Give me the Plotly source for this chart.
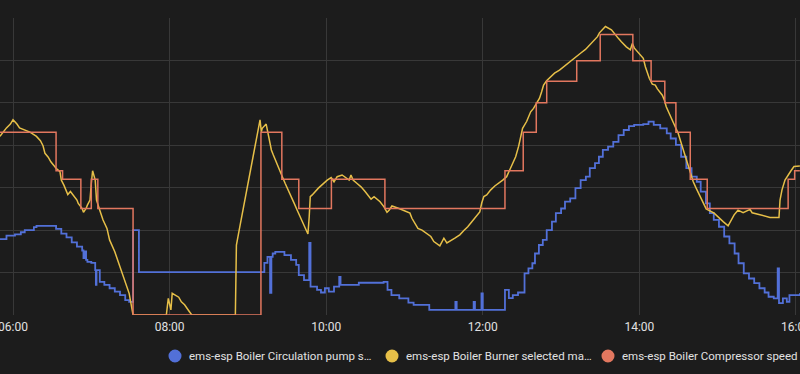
import pandas as pd
import plotly.graph_objects as go

DAY = "2024-01-15 "

series_names = [
    "ems-esp Boiler Circulation pump s…",
    "ems-esp Boiler Burner selected ma…",
    "ems-esp Boiler Compressor speed",
]
series_colors = ["#5270d8", "#e6bf48", "#e2775f"]

# Circulation pump speed (blue)
pump_t = ["05:50", "05:55", "06:01:30", "06:06", "06:09", "06:16", "06:18", "06:33", "06:37", "06:41",
          "06:45", "06:49", "06:53", "06:54", "06:55", "06:56", "06:57", "07:00", "07:03", "07:03:30",
          "07:04", "07:06:30", "07:10", "07:14", "07:18", "07:22", "07:26", "07:29", "07:32", "07:36:30",
          "09:12:36", "09:15", "09:17", "09:18", "09:19", "09:21", "09:28", "09:33", "09:37", "09:39",
          "09:43", "09:47", "09:48", "09:53", "09:56", "09:59", "10:02", "10:06", "10:10", "10:11",
          "10:25", "10:44", "10:47", "10:50", "10:56", "11:03", "11:07", "11:19", "11:39", "11:40",
          "11:53", "11:54", "11:59", "12:00", "12:17", "12:20", "12:23", "12:27", "12:32", "12:35",
          "12:38", "12:40", "12:43", "12:46", "12:49", "12:53", "12:56", "13:00", "13:03", "13:07",
          "13:11", "13:15", "13:19", "13:22", "13:26", "13:29", "13:32", "13:36", "13:40", "13:44",
          "13:48", "13:52", "13:56", "14:03", "14:07", "14:11", "14:16", "14:21", "14:24", "14:28",
          "14:32", "14:36", "14:40", "14:44", "14:47", "14:51", "14:54", "14:57", "15:01", "15:05",
          "15:09", "15:13", "15:16", "15:20", "15:24", "15:28", "15:32", "15:36", "15:39", "15:43",
          "15:46", "15:47", "15:50", "15:53", "15:55", "16:03"]
pump_v = [17.9, 18.7, 19.0, 19.5, 20.0, 20.7, 21.0, 20.3, 19.2, 18.3,
          17.1, 16.1, 15.2, 13.4, 15.0, 13.0, 12.5, 12.3, 10.6, 7.1,
          10.6, 7.8, 7.1, 6.3, 5.5, 4.7, 3.5, 3.1, 20.0, 10.1,
          12.3, 13.7, 5.2, 13.7, 14.5, 14.9, 14.1, 13.0, 11.8, 9.4,
          8.2, 17.0, 6.7, 5.9, 5.3, 6.3, 5.5, 6.7, 9.0, 7.1,
          7.6, 7.8, 5.9, 4.7, 3.9, 2.9, 2.4, 1.2, 3.1, 1.2,
          3.1, 1.2, 5.1, 1.2, 5.9, 4.0, 4.7, 5.3, 9.8, 11.0,
          12.2, 14.5, 16.5, 17.7, 20.0, 22.0, 24.0, 25.1, 26.7, 27.5,
          29.9, 31.8, 32.6, 34.6, 35.8, 37.3, 38.9, 39.7, 40.8, 42.4,
          43.6, 44.5, 44.8, 45.0, 45.6, 44.8, 44.0, 42.8, 41.6, 40.1,
          37.3, 34.6, 32.6, 31.4, 29.1, 26.3, 24.0, 22.4, 20.8, 18.5,
          16.9, 14.5, 12.2, 9.8, 8.6, 7.5, 6.3, 5.3, 4.3, 3.9,
          11.0, 2.8, 3.9, 3.1, 4.7, 5.1]

# Burner selected max power (yellow)
burner_t = ["05:50", "05:55", "05:58", "06:00", "06:03", "06:05", "06:13", "06:18", "06:21", "06:23",
            "06:24:30", "06:27", "06:29", "06:31", "06:33", "06:36", "06:37", "06:39", "06:40:30", "06:42",
            "06:44", "06:45", "06:47", "06:49", "06:50", "06:53", "06:54", "06:56", "06:57", "06:59",
            "07:00", "07:01", "07:03", "07:04", "07:06:30", "07:09", "07:12", "07:14", "07:18", "07:22",
            "07:26", "07:29", "07:32", "07:57:30", "07:59", "08:01", "08:02", "08:07", "08:09", "08:11:30",
            "08:14", "08:17", "08:50:24", "08:51:12", "08:53:30", "08:55:48", "08:58:06", "09:00:24", "09:02:42", "09:04:54",
            "09:07:12", "09:09:18", "09:10:18", "09:11", "09:14", "09:18", "09:19:30", "09:21", "09:22:30", "09:24",
            "09:26:24", "09:28:36", "09:31", "09:33:12", "09:35:30", "09:37:48", "09:40:06", "09:42:24", "09:44:18", "09:46",
            "09:47", "09:47:48", "09:49:18", "09:51:36", "09:54", "10:00:48", "10:03:48", "10:06", "10:08:24", "10:12:12",
            "10:17:36", "10:19", "10:20:36", "10:23:42", "10:26:42", "10:29:48", "10:32", "10:34:24", "10:36:42", "10:41:18",
            "10:44:18", "10:46:36", "10:48:12", "10:50:24", "10:55:48", "11:04:12", "11:05:42", "11:08", "11:10:18", "11:13:24",
            "11:16:24", "11:20:12", "11:22:30", "11:27:06", "11:30:12", "11:32:30", "11:38:36", "11:42:24", "11:45:30", "11:48:30",
            "11:51:36", "11:54:36", "11:57:42", "11:59:12", "12:00:48", "12:03", "12:06:06", "12:09:12", "12:12:12", "12:15:18",
            "12:18:18", "12:20:36", "12:22:54", "12:25:12", "12:27:30", "12:30:30", "12:33:36", "12:36:42", "12:38:54", "12:41:12",
            "12:43:30", "12:45:06", "12:46:36", "12:48:54", "12:51:54", "12:55", "12:58:48", "13:01:54", "13:04:54", "13:08:48",
            "13:11:48", "13:14:54", "13:18:42", "13:21:48", "13:24:48", "13:27:54", "13:29:24", "13:31:42", "13:34", "13:38:36",
            "13:41:36", "13:43:54", "13:46:12", "13:50", "13:53:06", "13:54:36", "13:56:12", "14:00", "14:03", "14:04:36",
            "14:06:06", "14:07:36", "14:09:54", "14:12:12", "14:13:48", "14:15:18", "14:17:36", "14:19:06", "14:20:36", "14:22:54",
            "14:25:12", "14:27:30", "14:29:48", "14:32:06", "14:34:24", "14:36:42", "14:39", "14:41:18", "14:43:30", "14:46:36",
            "14:49:42", "14:51:12", "14:57:18", "15:00:24", "15:04:12", "15:08", "15:10:18", "15:12:36", "15:15:36", "15:19:30",
            "15:24:48", "15:26:24", "15:40:06", "15:47", "15:47:48", "15:49:18", "15:51:36", "15:53:54", "15:56:12", "15:58:30",
            "16:03"]
burner_v = [42.1, 44.1, 45.0, 46.0, 45.0, 44.1, 43.1, 42.1, 41.1, 39.9,
            38.1, 37.2, 36.1, 35.2, 34.6, 33.8, 31.8, 30.6, 29.5, 28.4,
            29.1, 28.7, 27.9, 27.1, 26.3, 25.1, 24.2, 25.1, 25.9, 27.1,
            31.0, 34.0, 31.8, 27.1, 24.7, 22.4, 20.4, 17.7, 14.9, 11.4,
            8.2, 5.1, 0.0, 0.0, 3.9, 1.2, 5.1, 4.2, 3.1, 2.4,
            1.3, 0.0, 0.0, 16.5, 20.3, 24.0, 27.8, 31.6, 35.4, 38.9,
            42.7, 46.0, 43.2, 44.0, 45.0, 38.9, 37.7, 36.5, 35.4, 34.2,
            32.6, 31.0, 29.5, 27.9, 26.3, 24.7, 23.2, 21.6, 20.3, 19.1,
            23.2, 27.9, 28.3, 29.1, 29.9, 31.8, 32.4, 31.4, 32.6, 33.0,
            31.8, 33.0, 31.8, 31.0, 30.2, 29.1, 28.3, 27.3, 27.9, 26.7,
            25.5, 24.2, 24.7, 25.7, 25.1, 24.0, 22.8, 21.6, 20.4, 20.0,
            19.3, 18.5, 17.3, 16.3, 18.1, 17.0, 18.1, 18.9, 19.9, 20.8,
            22.0, 23.2, 24.3, 26.4, 27.9, 28.3, 29.5, 30.4, 31.0, 31.8,
            32.6, 34.2, 36.1, 37.3, 39.8, 44.0, 45.6, 47.9, 48.7, 49.9,
            51.1, 52.6, 54.2, 55.2, 56.2, 57.0, 57.7, 58.5, 59.3, 60.1,
            60.9, 61.7, 62.6, 63.6, 64.4, 65.6, 66.5, 67.2, 68.0, 67.2,
            66.2, 65.2, 64.4, 63.2, 62.5, 64.0, 62.9, 61.7, 60.5, 58.5,
            57.0, 55.8, 54.4, 54.2, 53.3, 52.6, 51.8, 50.7, 49.1, 47.5,
            46.0, 44.4, 42.8, 40.5, 38.1, 35.8, 33.4, 31.4, 29.9, 27.9,
            25.9, 25.0, 24.0, 23.2, 22.0, 21.0, 22.4, 23.6, 24.7, 24.1,
            24.9, 24.1, 23.0, 23.0, 27.1, 29.5, 31.8, 33.0, 34.0, 35.0,
            35.1]

# Compressor speed (orange)
comp_t = ["05:50", "06:33", "06:38", "06:52", "07:00", "07:05", "07:32", "09:10", "09:26", "09:39",
          "10:04", "10:45", "12:17", "12:31", "12:41", "12:49", "13:12", "13:30", "13:55", "14:09",
          "14:19:30", "14:28", "14:39", "14:52", "15:54", "15:59", "16:03"]
comp_v = [43.1, 34.0, 32.0, 25.1, 32.0, 25.1, 0.0, 43.1, 32.0, 25.1,
          32.0, 25.1, 34.0, 43.1, 50.0, 55.1, 59.9, 66.1, 59.9, 55.1,
          50.0, 43.1, 32.0, 25.1, 32.0, 34.0, 34.0]

line_shapes = ["hv", "linear", "hv"]
line_widths = [1.8, 1.5, 1.5]

x_range = ["05:50:02", "16:03:06"]
y_range = [0, 70]
y_step = 10

W, H = 800, 374
M_T, M_B = 18, 59
# legend row: circle centre x (px) for each entry, text starts 12 px right of it
legend_x = [175, 392, 608]
legend_y = 356


def to_dt(ts):
    full = [t if t.count(":") == 2 else t + ":00" for t in ts]
    return pd.to_datetime([DAY + t for t in full], format="%Y-%m-%d %H:%M:%S")


fig = go.Figure()
data = [(pump_t, pump_v), (burner_t, burner_v), (comp_t, comp_v)]
for (t, v), name, col, shp, w in zip(data, series_names, series_colors, line_shapes, line_widths):
    fig.add_trace(go.Scatter(
        x=to_dt(t), y=v, mode="lines", line=dict(color=col, width=w, shape=shp),
        name=name, showlegend=False, hoverinfo="skip"))

# legend row built from circles + text
plot_h = H - M_T - M_B
ly = (H - M_B - legend_y) / plot_h
for name, col, lx in zip(series_names, series_colors, legend_x):
    r = 6.5
    fig.add_shape(type="circle", xref="paper", yref="paper",
                  x0=(lx - r) / W, x1=(lx + r) / W,
                  y0=ly - r / plot_h, y1=ly + r / plot_h,
                  fillcolor=col, line=dict(width=0))
    fig.add_annotation(x=(lx + 12) / W, y=ly, xref="paper", yref="paper",
                       text=name, showarrow=False, xanchor="left", yanchor="middle",
                       font=dict(size=11.5, color="#e1e1e1"))

fig.update_layout(
    width=W, height=H,
    margin=dict(l=0, r=0, t=M_T, b=M_B, autoexpand=False),
    paper_bgcolor="#1c1c1c", plot_bgcolor="#1c1c1c",
    font=dict(family="Roboto", size=12, color="#e1e1e1"),
    showlegend=False,
)
fig.update_xaxes(
    type="date", range=[DAY + x_range[0], DAY + x_range[1]],
    dtick=2 * 3600 * 1000, tick0=DAY + "06:00", tickformat="%H:%M",
    showgrid=True, gridcolor="#383838", gridwidth=1, zeroline=False,
    showline=False, ticks="", tickfont=dict(size=12, color="#e1e1e1"),
    ticklabeloverflow="allow", ticklabelstandoff=3,
)
fig.update_yaxes(
    range=y_range, dtick=y_step, showgrid=True, gridcolor="#383838", gridwidth=1,
    zeroline=False, showticklabels=False, showline=False,
)

fig.write_html(
    "out.html",
    config={"displayModeBar": False},
    post_script="document.body.style.margin='0';document.body.style.background='#1c1c1c';",
)
